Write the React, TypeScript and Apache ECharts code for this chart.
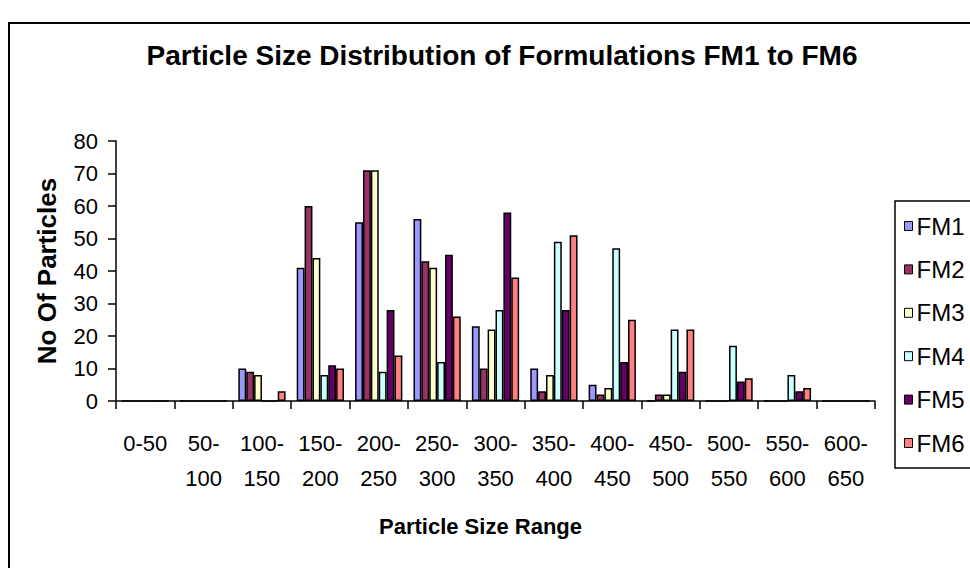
import React, { useEffect, useRef } from "react";
import * as echarts from "echarts";

const categories = [
  "0-50", "50-100", "100-150", "150-200", "200-250", "250-300", "300-350",
  "350-400", "400-450", "450-500", "500-550", "550-600", "600-650",
];
const seriesNames = ["FM1", "FM2", "FM3", "FM4", "FM5", "FM6"];
const fm1 = [0, 0, 10, 41, 55, 56, 23, 10, 5, 0, 0, 0, 0];
const fm2 = [0, 0, 9, 60, 71, 43, 10, 3, 2, 2, 0, 0, 0];
const fm3 = [0, 0, 8, 44, 71, 41, 22, 8, 4, 2, 0, 0, 0];
const fm4 = [0, 0, 0, 8, 9, 12, 28, 49, 47, 22, 17, 8, 0];
const fm5 = [0, 0, 0, 11, 28, 45, 58, 28, 12, 9, 6, 3, 0];
const fm6 = [0, 0, 3, 10, 14, 26, 38, 51, 25, 22, 7, 4, 0];
const seriesValues = [fm1, fm2, fm3, fm4, fm5, fm6];
const colors = ["#9999FF", "#993366", "#FFFFCC", "#CCFFFF", "#660066", "#FF8080"];
const yTicks = { min: 0, max: 80, interval: 10 };

const FONT = 'Arial, "Liberation Sans", sans-serif';

export default function App() {
  const ref = useRef<HTMLDivElement>(null);
  useEffect(() => {
    if (!ref.current) return;
    const chart = echarts.init(ref.current, null, { renderer: "svg" });
    chart.setOption({
      animation: false,
      backgroundColor: "#ffffff",
      textStyle: { fontFamily: FONT, color: "#000" },
      title: {
        text: "Particle Size Distribution of Formulations FM1 to FM6",
        left: 497,
        textAlign: "center",
        top: 36,
        textStyle: { fontFamily: FONT, fontSize: 28, fontWeight: "bold", color: "#000" },
      },
      graphic: [
        {
          type: "rect",
          shape: { x: 9, y: 23, width: 1000, height: 600 },
          style: { fill: "none", stroke: "#000", lineWidth: 2 },
          silent: true,
        },
      ],
      legend: {
        orient: "vertical",
        left: 895,
        top: 201,
        padding: [13, 30, 13, 9],
        itemGap: 19.4,
        itemWidth: 8,
        itemHeight: 9,
        icon: "rect",
        borderColor: "#000",
        borderWidth: 1.5,
        borderRadius: 0,
        itemStyle: { borderColor: "#000", borderWidth: 1 },
        textStyle: { fontFamily: FONT, fontSize: 24, lineHeight: 24, color: "#000", padding: [0, 0, 0, -1] },
        data: seriesNames,
      },
      grid: { left: 116, right: 95, top: 141, bottom: 167 },
      xAxis: {
        type: "category",
        data: categories,
        name: "Particle Size Range",
        nameLocation: "middle",
        nameGap: 114,
        nameTextStyle: { fontFamily: FONT, fontSize: 22, fontWeight: "bold", color: "#000", padding: [0, 30, 0, 0] },
        axisLine: { lineStyle: { color: "#000", width: 1.5 } },
        axisTick: { show: true, length: 8, lineStyle: { color: "#000", width: 1.5 } },
        axisLabel: {
          interval: 0,
          margin: 25,
          fontFamily: FONT,
          fontSize: 22,
          lineHeight: 35,
          color: "#000",
          formatter: (v: string) => (v.length > 4 ? v.replace("-", "-\n") : v),
        },
      },
      yAxis: {
        type: "value",
        min: yTicks.min,
        max: yTicks.max,
        interval: yTicks.interval,
        name: "No Of Particles",
        nameLocation: "middle",
        nameGap: 56,
        nameTextStyle: { fontFamily: FONT, fontSize: 26, fontWeight: "bold", color: "#000" },
        axisLine: { show: true, lineStyle: { color: "#000", width: 1.5 } },
        axisTick: { show: true, length: 8, lineStyle: { color: "#000", width: 1.5 } },
        axisLabel: { margin: 18, fontFamily: FONT, fontSize: 22, color: "#000" },
        splitLine: { show: false },
      },
      series: seriesNames.map((name, i) => ({
        name,
        type: "bar",
        data: seriesValues[i],
        barGap: "0%",
        barCategoryGap: "19%",
        itemStyle: { color: colors[i], borderColor: "#000", borderWidth: 1.5 },
      })),
    });
    return () => chart.dispose();
  }, []);
  return (
    <div
      ref={ref}
      style={{ position: "absolute", left: 0, top: 0, width: 970, height: 568 }}
    />
  );
}
